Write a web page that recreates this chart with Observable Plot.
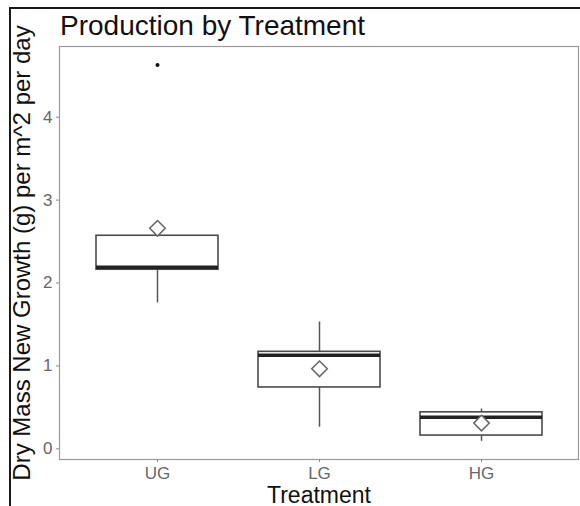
<!DOCTYPE html>
<html><head><meta charset="utf-8">
<script src="https://cdn.jsdelivr.net/npm/d3@7"></script>
<script src="https://cdn.jsdelivr.net/npm/@observablehq/plot@0.6"></script>
<style>
html,body{margin:0;padding:0;background:#fff;}
#wrap{position:relative;width:580px;height:506px;overflow:hidden;font-family:"Liberation Sans",Arial,sans-serif;}
#frame{position:absolute;left:9px;top:7px;right:-5px;bottom:-5px;border-top:2px solid #1a1a1a;border-left:2px solid #1a1a1a;z-index:2;pointer-events:none;}
#title{position:absolute;left:60px;top:12px;font-size:28px;line-height:28px;color:#111;z-index:2;white-space:nowrap;}
#chart{position:absolute;left:0;top:0;}
</style></head><body>
<div id="wrap"><div id="chart"></div><div id="title">Production by Treatment</div><div id="frame"></div></div>
<script>
const treatments = ["UG", "LG", "HG"];
const lowerWhisker = [1.76, 0.26, 0.09];
const q1 = [2.16, 0.74, 0.16];
const median = [2.19, 1.13, 0.38];
const q3 = [2.57, 1.17, 0.44];
const upperWhisker = [2.57, 1.53, 0.48];
const means = [2.66, 0.965, 0.31];
const outlierTreatment = ["UG"];
const outlierValue = [4.63];
const yTicks = [0, 1, 2, 3, 4];
const titleText = "Production by Treatment";
const yLabel = "Dry Mass New Growth (g) per m^2 per day";
const xLabel = "Treatment";

const boxes = treatments.map((t, i) => ({
  treatment: t, lo: lowerWhisker[i], q1: q1[i], med: median[i],
  q3: q3[i], hi: upperWhisker[i], mean: means[i]
}));
const outliers = outlierTreatment.map((t, i) => ({treatment: t, value: outlierValue[i]}));

const chart = Plot.plot({
  width: 580,
  height: 506,
  marginLeft: 59,
  marginRight: 2,
  marginTop: 46,
  marginBottom: 47,
  style: {fontFamily: "'Liberation Sans', Arial, sans-serif", background: "transparent", overflow: "visible"},
  x: {type: "band", domain: treatments, paddingInner: 0.25, paddingOuter: 0.225, label: null},
  y: {domain: [-0.129, 4.853], label: null},
  marks: [
    Plot.frame({stroke: "#9a9a9a", strokeWidth: 1.2}),
    Plot.axisY({ticks: yTicks, tickFormat: d => String(d), tickSize: 3, tickPadding: 4, fontSize: 17, stroke: "#888", fill: "#666", label: null}),
    Plot.axisX({tickSize: 3, tickPadding: 4, fontSize: 17, stroke: "#888", fill: "#666", label: null}),
    Plot.ruleX(boxes, {x: "treatment", y1: "lo", y2: "q1", stroke: "#555", strokeWidth: 1.5}),
    Plot.ruleX(boxes, {x: "treatment", y1: "q3", y2: "hi", stroke: "#555", strokeWidth: 1.5}),
    Plot.barY(boxes, {x: "treatment", y1: "q1", y2: "q3", fill: "white", stroke: "#4a4a4a", strokeWidth: 1.6}),
    Plot.tickY(boxes, {x: "treatment", y: "med", stroke: "#222", strokeWidth: 3.5}),
    Plot.dot(boxes, {x: "treatment", y: "mean", symbol: "diamond2", r: 7, stroke: "#666", strokeWidth: 1.5, fill: "white"}),
    Plot.dot(outliers, {x: "treatment", y: "value", r: 2, fill: "#111", stroke: null}),
    Plot.text([yLabel], {frameAnchor: "left", text: d => d, rotate: -90, dx: -30, textAnchor: "middle", lineAnchor: "bottom", fontSize: 24, fill: "#111"}),
    Plot.text([xLabel], {frameAnchor: "bottom", text: d => d, dy: 43, textAnchor: "middle", lineAnchor: "bottom", fontSize: 23, fill: "#111"})
  ]
});
document.getElementById("chart").appendChild(chart);
document.getElementById("title").textContent = titleText;
</script>
</body></html>
